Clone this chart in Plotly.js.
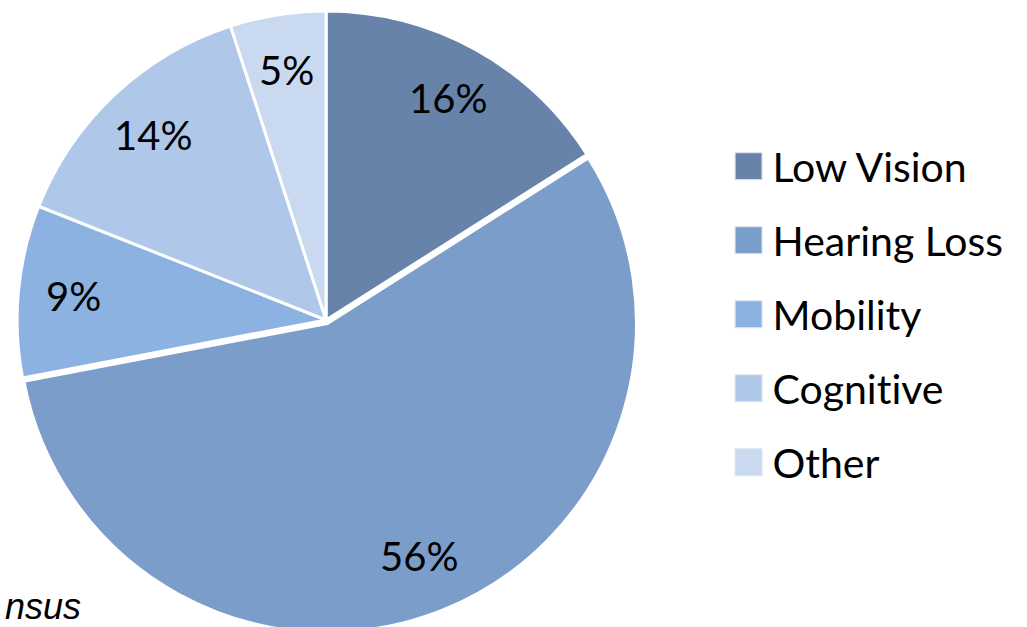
<!DOCTYPE html>
<html>
<head>
<meta charset="utf-8">
<script src="https://cdn.plot.ly/plotly-3.0.1.min.js"></script>
<style>
html,body{margin:0;padding:0;overflow:hidden;background:#fff;}
#chart{width:1027px;height:640px;}
text{font-variant-ligatures:none !important;font-feature-settings:"liga" 0,"clig" 0 !important;}
</style>
</head>
<body>
<div id="chart"></div>
<script>
var categories = ["Low Vision", "Hearing Loss", "Mobility", "Cognitive", "Other"];
var shares = [16, 56, 9, 14, 5];
var sliceColors = ["#6783A9", "#7B9DC9", "#8CB2E1", "#AFC7E9", "#C9D9EF"];
var pulls = [0, 0.012, 0, 0, 0];
var footText = "nsus";

var labelFont = {family: "Lato, 'Open Sans', sans-serif", size: 40, color: "#000"};
var legendFont = {family: "Lato, 'Open Sans', sans-serif", size: 41, color: "#000"};
var labelRadiusFrac = 0.82;
var legendSpacing = 74;
var symbolScale = 2.25;

var trace = {
  type: "pie",
  labels: categories,
  values: shares,
  sort: false,
  direction: "clockwise",
  rotation: 0,
  pull: pulls,
  marker: {colors: sliceColors, line: {color: "#ffffff", width: 3}},
  textinfo: "none",
  hoverinfo: "label+percent",
  domain: {x: [0.013, 0.622], y: [0.0114, 0.9886]}
};

var layout = {
  width: 1027,
  height: 640,
  margin: {l: 0, r: 0, t: 0, b: 0},
  paper_bgcolor: "#fff",
  showlegend: true,
  legend: {
    x: 0.7094, y: 0.564, xanchor: "left", yanchor: "middle",
    font: legendFont,
    bgcolor: "rgba(0,0,0,0)"
  },
  annotations: [{
    text: footText, xref: "paper", yref: "paper", x: 3 / 1027, y: (640 - 606) / 640,
    xanchor: "left", yanchor: "middle", showarrow: false,
    font: {family: "'Liberation Sans', Arial, sans-serif", size: 36, color: "#000", style: "italic"}
  }]
};

var gd = document.getElementById("chart");
Plotly.newPlot(gd, [trace], layout, {displayModeBar: false, staticPlot: true}).then(function () {
  // percentage labels placed on each slice's mid-angle using the pie geometry Plotly computed
  var cd = gd.calcdata[0];
  var cx = cd[0].cx, cy = cd[0].cy, r = cd[0].r;
  var W = gd._fullLayout.width, H = gd._fullLayout.height;
  var total = shares.reduce(function (a, b) { return a + b; }, 0);
  var cum = 0;
  var anns = layout.annotations.slice();
  shares.forEach(function (v, i) {
    var mid = (cum + v / 2) / total * 2 * Math.PI;
    cum += v;
    var px = cx + labelRadiusFrac * r * Math.sin(mid);
    var py = cy - labelRadiusFrac * r * Math.cos(mid);
    anns.push({
      text: v + "%", xref: "paper", yref: "paper", x: px / W, y: 1 - py / H,
      xanchor: "center", yanchor: "middle", showarrow: false, font: labelFont
    });
  });
  return Plotly.relayout(gd, {annotations: anns});
}).then(function () {
  // Office-style legend: larger square swatches and wider row spacing
  gd.querySelectorAll(".legend [clip-path]").forEach(function (el) { el.removeAttribute("clip-path"); });
  var items = gd.querySelectorAll(".legend .traces");
  var first = null;
  items.forEach(function (g, i) {
    var t = g.getAttribute("transform") || "";
    var m = /translate\(\s*([-\d.]+)[ ,]+([-\d.]+)/.exec(t);
    var x0 = m ? parseFloat(m[1]) : 0, y0 = m ? parseFloat(m[2]) : 0;
    if (first === null) first = y0;
    g.setAttribute("transform", "translate(" + x0 + "," + (first + i * legendSpacing) + ")");
    var p = g.querySelector(".legendpoints path");
    if (p) {
      p.setAttribute("transform", "translate(20,0) scale(" + symbolScale + ")");
      p.style.strokeWidth = "0.5px";
      p.style.stroke = "#dfe6f0";
    }
    var tx = g.querySelector("text.legendtext");
    if (tx) {
      tx.setAttribute("x", parseFloat(tx.getAttribute("x") || 40) + 4);
      tx.style.fontVariantLigatures = "none";
      tx.style.fontFeatureSettings = '"liga" 0';
    }
  });
});
</script>
</body>
</html>
